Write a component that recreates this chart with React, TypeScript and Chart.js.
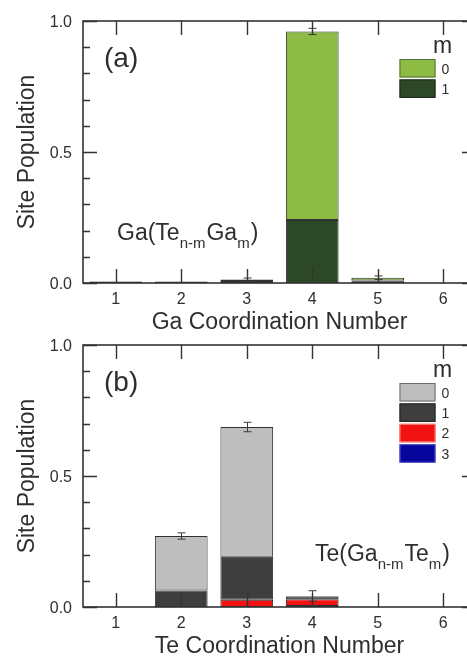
import React, { useEffect, useRef } from "react";
import { Chart, registerables } from "chart.js";

Chart.register(...registerables);

// ---- data ----
const coordNumbers = ["1", "2", "3", "4", "5", "6"];
const yMajorTicks = [0, 0.5, 1.0];
const yMinorStep = 0.1;

// Panel (a): Ga sites, m = number of Ga neighbours
const gaM0 = [0.002, 0.002, 0.005, 0.72, 0.01, 0];
const gaM1 = [0.005, 0.004, 0.008, 0.24, 0.01, 0];
const gaErr = [0, 0, 0.006, 0.012, 0.007, 0];

// Panel (b): Te sites, m = number of Te neighbours
const teM0 = [0, 0.208, 0.495, 0.002, 0, 0];
const teM1 = [0, 0.063, 0.164, 0.01, 0, 0];
const teM2 = [0, 0, 0.028, 0.026, 0, 0];
const teM3 = [0, 0, 0, 0.004, 0, 0];
const teErr = [0, 0.012, 0.018, 0.02, 0, 0];

const legendLabelsA = ["0", "1"];
const legendLabelsB = ["0", "1", "2", "3"];

const FONT = "'Liberation Sans', Arial, Helvetica, sans-serif";
const INK = "#2e2e2e";

type Series = { name: string; data: number[]; fill: string; edge: string };
type Panel = {
  tag: string;
  xTitle: string;
  formula: [string, boolean][];
  formulaDx: number;
  formulaDy: number;
  series: Series[]; // bottom-to-top stacking order
  legend: Series[]; // listed top-to-bottom
  err: number[];
  height: number;
};

const seriesA: Series[] = [
  { name: legendLabelsA[1], data: gaM1, fill: "#2c4826", edge: "#1c2c18" },
  { name: legendLabelsA[0], data: gaM0, fill: "#8dbb43", edge: "#55703a" },
];
const seriesB: Series[] = [
  { name: legendLabelsB[3], data: teM3, fill: "#06069c", edge: "#5a5ad0" },
  { name: legendLabelsB[2], data: teM2, fill: "#f21212", edge: "#f08a8a" },
  { name: legendLabelsB[1], data: teM1, fill: "#3e3e3e", edge: "#222222" },
  { name: legendLabelsB[0], data: teM0, fill: "#bebebe", edge: "#6e6e6e" },
];

const panelA: Panel = {
  tag: "(a)",
  xTitle: "Ga Coordination Number",
  formula: [["Ga(Te", false], ["n-m", true], ["Ga", false], ["m", true], [")", false]],
  formulaDx: 34,
  formulaDy: 219,
  series: seriesA,
  legend: [...seriesA].reverse(),
  err: gaErr,
  height: 340,
};

const panelB: Panel = {
  tag: "(b)",
  xTitle: "Te Coordination Number",
  formula: [["Te(Ga", false], ["n-m", true], ["Te", false], ["m", true], [")", false]],
  formulaDx: 232,
  formulaDy: 216,
  series: seriesB,
  legend: [...seriesB].reverse(),
  err: teErr,
  height: 334,
};

const CANVAS_W = 490;
const AREA = { left: 83, right: 476, top: 21, bottom: 283 };

function makeDecorations(panel: Panel) {
  return {
    id: "panelDecorations",
    afterDatasetsDraw(chart: any) {
      const { ctx, chartArea } = chart;
      const { left, right, top, bottom } = chartArea;
      const xs = chart.scales.x;
      const ys = chart.scales.y;
      ctx.save();

      // error bars on stacked totals
      ctx.strokeStyle = "#3a3a3a";
      ctx.lineWidth = 1;
      panel.err.forEach((e, i) => {
        if (!e) return;
        const total = panel.series.reduce((s, se) => s + se.data[i], 0);
        const x = Math.round(xs.getPixelForValue(i)) + 0.5;
        const y1 = ys.getPixelForValue(total + e);
        const y2 = ys.getPixelForValue(total - e);
        ctx.beginPath();
        ctx.moveTo(x, y1);
        ctx.lineTo(x, y2);
        ctx.moveTo(x - 4, y1);
        ctx.lineTo(x + 4, y1);
        ctx.moveTo(x - 4, y2);
        ctx.lineTo(x + 4, y2);
        ctx.stroke();
      });

      // frame
      ctx.strokeStyle = "#333";
      ctx.lineWidth = 1.6;
      ctx.strokeRect(left, top, right - left, bottom - top);

      // x ticks, inward on bottom and top
      ctx.lineWidth = 1.4;
      ctx.beginPath();
      coordNumbers.forEach((_, i) => {
        const x = Math.round(xs.getPixelForValue(i)) + 0.5;
        ctx.moveTo(x, bottom);
        ctx.lineTo(x, bottom - 14);
        ctx.moveTo(x, top);
        ctx.lineTo(x, top + 14);
      });
      // y ticks, inward on left and right
      const nMinor = Math.round(1 / yMinorStep);
      for (let k = 0; k <= nMinor; k++) {
        const v = k * yMinorStep;
        const major = yMajorTicks.some((t) => Math.abs(t - v) < 1e-9);
        const len = major ? 14 : 7;
        const y = Math.round(ys.getPixelForValue(v)) + 0.5;
        ctx.moveTo(left, y);
        ctx.lineTo(left + len, y);
        ctx.moveTo(right, y);
        ctx.lineTo(right - len, y);
      }
      ctx.stroke();

      // tick labels
      ctx.fillStyle = INK;
      ctx.font = `16px ${FONT}`;
      ctx.textBaseline = "alphabetic";
      ctx.textAlign = "right";
      yMajorTicks.forEach((v) => {
        ctx.fillText(v.toFixed(1), left - 11, ys.getPixelForValue(v) + 5.5);
      });
      ctx.textAlign = "center";
      coordNumbers.forEach((lab, i) => {
        ctx.fillText(lab, xs.getPixelForValue(i), bottom + 21);
      });

      // axis titles
      ctx.font = `23px ${FONT}`;
      ctx.fillText(panel.xTitle, (left + right) / 2, bottom + 46);
      ctx.save();
      ctx.translate(33.5, (top + bottom) / 2);
      ctx.rotate(-Math.PI / 2);
      ctx.fillText("Site Population", 0, 0);
      ctx.restore();

      // panel tag
      ctx.textAlign = "left";
      ctx.font = `28px ${FONT}`;
      ctx.fillText(panel.tag, left + 21, top + 46);

      // composition formula with subscripts
      let fx = left + panel.formulaDx;
      const fy = top + panel.formulaDy;
      panel.formula.forEach(([txt, sub]) => {
        ctx.font = sub ? `15px ${FONT}` : `23px ${FONT}`;
        ctx.fillText(txt, fx, sub ? fy + 8 : fy);
        fx += ctx.measureText(txt).width + (sub ? 1 : 0);
      });

      // legend
      const lx = 399.5;
      const ly = top + 38;
      ctx.font = `23px ${FONT}`;
      ctx.fillText("m", 433, top + 32);
      ctx.font = `14px ${FONT}`;
      panel.legend.forEach((s, k) => {
        const y = ly + k * 20.4;
        ctx.fillStyle = s.fill;
        ctx.fillRect(lx, y, 36, 18.5);
        ctx.strokeStyle = s.edge;
        ctx.lineWidth = 1;
        ctx.strokeRect(lx + 0.5, y + 0.5, 35, 17.5);
        ctx.fillStyle = INK;
        ctx.fillText(s.name, 441.5, y + 14.5);
      });

      ctx.restore();
    },
  };
}

function PanelChart({ panel, offsetTop }: { panel: Panel; offsetTop: number }) {
  const ref = useRef<HTMLCanvasElement | null>(null);

  useEffect(() => {
    if (!ref.current) return;
    const chart = new Chart(ref.current, {
      type: "bar",
      data: {
        labels: coordNumbers,
        datasets: panel.series.map((s) => ({
          label: s.name,
          data: s.data.map((v) => (v > 0 ? v : null)),
          backgroundColor: s.fill,
          borderColor: "#303030",
          borderWidth: 1,
          borderSkipped: false,
          categoryPercentage: 1,
          barPercentage: 0.805,
        })),
      },
      options: {
        responsive: true,
        maintainAspectRatio: false,
        animation: false,
        layout: {
          padding: {
            left: AREA.left,
            right: CANVAS_W - AREA.right,
            top: AREA.top,
            bottom: panel.height - AREA.bottom,
          },
        },
        plugins: { legend: { display: false }, tooltip: { enabled: false } },
        scales: {
          x: { display: false, stacked: true },
          y: { display: false, stacked: true, min: 0, max: 1 },
        },
      },
      plugins: [makeDecorations(panel)],
    } as any);
    return () => chart.destroy();
  }, [panel]);

  return (
    <div
      style={{
        position: "absolute",
        left: 0,
        top: offsetTop,
        width: CANVAS_W,
        height: panel.height,
      }}
    >
      <canvas ref={ref} />
    </div>
  );
}

export default function App() {
  return (
    <div
      style={{
        position: "fixed",
        left: 0,
        top: 0,
        width: 467,
        height: 658,
        overflow: "hidden",
        background: "#fff",
      }}
    >
      <PanelChart panel={panelA} offsetTop={0} />
      <PanelChart panel={panelB} offsetTop={324} />
    </div>
  );
}
